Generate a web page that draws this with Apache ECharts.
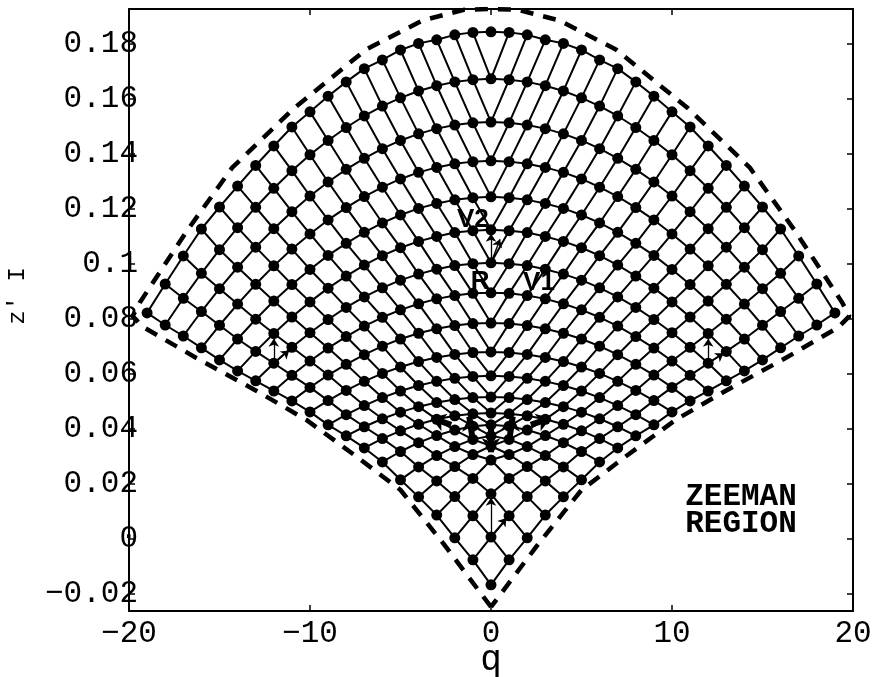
<!DOCTYPE html>
<html>
<head>
<meta charset="utf-8">
<script src="https://cdn.jsdelivr.net/npm/echarts@6.0.0/dist/echarts.min.js"></script>
<style>
    html, body { margin: 0; padding: 0; background: #fff; }
    #chart { width: 879px; height: 677px; }
</style>
</head>
<body>
<div id="chart"></div>
<script>
// axis ticks
var xTicks = [-20, -10, 0, 10, 20];
var yTicks = [-0.02, 0, 0.02, 0.04, 0.06, 0.08, 0.1, 0.12, 0.14, 0.16, 0.18];

// lattice columns: colE[m] = energies (bottom to top) of the points at q = -m (and mirrored at q = +m)
var colE = [
    [-0.0167, 0.0007, 0.0164, 0.0287, 0.0338, 0.0375, 0.0415, 0.0458, 0.0516, 0.0593,
        0.0680, 0.0785, 0.0895, 0.1004, 0.1124, 0.1244, 0.1375, 0.1516, 0.1673, 0.1844],
    [-0.0076, 0.0084, 0.0220, 0.0307, 0.0362, 0.0410, 0.0455, 0.0514, 0.0591, 0.0678,
        0.0783, 0.0893, 0.1001, 0.1121, 0.1241, 0.1372, 0.1513, 0.1670, 0.1842],
    [0.0004, 0.0154, 0.0263, 0.0336, 0.0396, 0.0448, 0.0507, 0.0584, 0.0671, 0.0776,
        0.0885, 0.0994, 0.1114, 0.1233, 0.1364, 0.1505, 0.1662, 0.1833],
    [0.0087, 0.0211, 0.0303, 0.0376, 0.0435, 0.0496, 0.0573, 0.0660, 0.0764, 0.0873,
        0.0981, 0.1100, 0.1220, 0.1351, 0.1492, 0.1648, 0.1815],
    [0.0153, 0.0262, 0.0350, 0.0417, 0.0481, 0.0558, 0.0645, 0.0748, 0.0855, 0.0963,
        0.1082, 0.1202, 0.1333, 0.1473, 0.1629, 0.1802],
    [0.0215, 0.0318, 0.0393, 0.0461, 0.0538, 0.0625, 0.0727, 0.0833, 0.0941, 0.1059,
        0.1178, 0.1309, 0.1449, 0.1604, 0.1778],
    [0.0280, 0.0365, 0.0437, 0.0514, 0.0602, 0.0701, 0.0806, 0.0913, 0.1030, 0.1149,
        0.1279, 0.1419, 0.1574, 0.1742],
    [0.0331, 0.0408, 0.0485, 0.0573, 0.0670, 0.0774, 0.0880, 0.0996, 0.1115, 0.1245,
        0.1384, 0.1538, 0.1710],
    [0.0375, 0.0452, 0.0540, 0.0635, 0.0736, 0.0842, 0.0956, 0.1075, 0.1205, 0.1344,
        0.1496, 0.1662],
    [0.0415, 0.0503, 0.0596, 0.0694, 0.0798, 0.0912, 0.1031, 0.1160, 0.1298, 0.1449, 0.1610],
    [0.0462, 0.0551, 0.0647, 0.0750, 0.0862, 0.0980, 0.1109, 0.1247, 0.1397, 0.1553],
    [0.0502, 0.0595, 0.0697, 0.0807, 0.0925, 0.1054, 0.1190, 0.1339, 0.1498],
    [0.0538, 0.0639, 0.0747, 0.0865, 0.0993, 0.1128, 0.1275, 0.1429],
    [0.0575, 0.0682, 0.0799, 0.0926, 0.1061, 0.1206, 0.1358],
    [0.0611, 0.0727, 0.0854, 0.0988, 0.1132, 0.1283],
    [0.0651, 0.0777, 0.0910, 0.1052, 0.1207],
    [0.0695, 0.0827, 0.0966, 0.1127],
    [0.0738, 0.0875, 0.1029],
    [0.0778, 0.0927],
    [0.0822]
];

// dashed border, left half from the bottom tip to the top
var borderLeft = [[0, -0.0247], [-2.65, -0.0015], [-5, 0.0178], [-7.4, 0.0298], [-10.2, 0.0433],
    [-13, 0.0540], [-16.2, 0.0655], [-19.2, 0.0770], [-19.8, 0.0810], [-19.4, 0.0860],
    [-16.8, 0.1120], [-14.3, 0.1350], [-10.9, 0.1565], [-6.9, 0.1780], [-3.8, 0.1885],
    [-1.5, 0.1924], [0, 0.1927]];

// thin arrows [from, to]
var thinArrows = [
    [[0, 0.0007], [0, 0.0150]], [[0, 0.0007], [0.85, 0.0076]],
    [[-12, 0.0639], [-12, 0.0728]], [[-12, 0.0639], [-11.15, 0.0685]],
    [[12, 0.0639], [12, 0.0728]], [[12, 0.0639], [12.85, 0.0675]],
    [[0, 0.1004], [0, 0.1110]], [[0, 0.1004], [0.5, 0.1090]]
];
// heavy arrows near the singular point
var boldArrows = [
    [[-2.2, 0.0415], [-3.3, 0.0440]], [[-1.0, 0.0355], [-1.2, 0.0445]],
    [[0, 0.0420], [0, 0.0315]], [[1.0, 0.0355], [1.2, 0.0445]],
    [[2.2, 0.0415], [3.3, 0.0440]]
];

// cell labels [text, q, E]
var labels = [['V2', -1.0, 0.1160], ['R', -0.6, 0.0935], ['V1', 2.65, 0.0930]];

var mono = '"Liberation Mono", "Courier New", monospace';

function minusFmt(v){
    return String(v).replace('-', '\u2212');
}

// energy of lattice node (i, j), q = i - j
function nodeE(i, j){
    return colE[Math.abs(i - j)][Math.min(i, j)];
}

var series = [], dots = [], i, j, line;

for(i = 0; i < 20; i++){
    line = [];
    for(j = 0; j < 20; j++){
        line.push([i - j, nodeE(i, j)]);
        dots.push([i - j, nodeE(i, j)]);
    }
    series.push({type: 'line', data: line, symbol: 'none', silent: true,
        lineStyle: {color: '#000', width: 2}});
}
for(j = 0; j < 20; j++){
    line = [];
    for(i = 0; i < 20; i++){
        line.push([i - j, nodeE(i, j)]);
    }
    series.push({type: 'line', data: line, symbol: 'none', silent: true,
        lineStyle: {color: '#000', width: 2}});
}

series.push({
    type: 'line',
    data: borderLeft.concat(borderLeft.map(function(p){ return [-p[0], p[1]]; }).reverse()),
    symbol: 'none', silent: true,
    lineStyle: {color: '#000', width: 4.5, type: [13, 10]}
});

series.push({
    type: 'scatter', data: dots, symbol: 'circle', symbolSize: 11,
    itemStyle: {color: '#000', opacity: 1}, silent: true
});

series.push({
    type: 'lines', coordinateSystem: 'cartesian2d', silent: true,
    data: thinArrows.map(function(a){ return {coords: a}; }),
    symbol: ['none', 'arrow'], symbolSize: 8,
    lineStyle: {color: '#000', width: 1.3, opacity: 1}
});
series.push({
    type: 'lines', coordinateSystem: 'cartesian2d', silent: true,
    data: boldArrows.map(function(a){ return {coords: a}; }),
    symbol: ['none', 'arrow'], symbolSize: 14,
    lineStyle: {color: '#000', width: 6, opacity: 1}
});

function axis(extra){
    var base = {
        type: 'value',
        axisLine: {show: true, onZero: false, lineStyle: {color: '#000', width: 2}},
        splitLine: {show: false}
    };
    return Object.assign(base, extra);
}

function text(x, y, str, font, rot){
    return {type: 'text', x: x, y: y, rotation: rot || 0, z: 100,
        style: {text: str, font: font, fill: '#000', textAlign: 'center', textVerticalAlign: 'middle'}};
}

var tickStyle = {color: '#000', width: 1.5};

var chart = echarts.init(document.getElementById('chart'), null, {renderer: 'canvas'});

chart.setOption({
    backgroundColor: '#fff',
    animation: false,
    grid: {left: 129, right: 26, top: 9, bottom: 66},
    xAxis: [
        axis({
            min: -20, max: 20, position: 'bottom',
            axisTick: {inside: true, length: 6, customValues: xTicks, lineStyle: tickStyle},
            axisLabel: {customValues: xTicks, formatter: minusFmt, margin: 7,
                fontFamily: mono, fontSize: 31, color: '#000'}
        }),
        axis({
            min: -20, max: 20, position: 'top',
            axisTick: {inside: true, length: 6, customValues: xTicks, lineStyle: tickStyle},
            axisLabel: {show: false}
        })
    ],
    yAxis: [
        axis({
            min: -0.0262, max: 0.1927, position: 'left',
            axisTick: {inside: true, length: 6, customValues: yTicks, lineStyle: tickStyle},
            axisLabel: {customValues: yTicks, formatter: minusFmt, margin: -9,
                fontFamily: mono, fontSize: 31, color: '#000'}
        }),
        axis({
            min: -0.0262, max: 0.1927, position: 'right',
            axisTick: {inside: true, length: 6, customValues: yTicks, lineStyle: tickStyle},
            axisLabel: {show: false}
        })
    ],
    series: series
});

// titles and labels, the cell labels placed through the axes
var graphics = [
    text(491, 660, 'q', '36px ' + mono),
    text(18, 296, "z' I", '24px ' + mono, Math.PI / 2),
    text(741, 497, 'ZEEMAN', 'bold 31px ' + mono),
    text(741, 524, 'REGION', 'bold 31px ' + mono)
];
labels.forEach(function(l){
    var p = chart.convertToPixel({xAxisIndex: 0, yAxisIndex: 0}, [l[1], l[2]]);
    graphics.push(text(p[0], p[1], l[0], 'bold 26px "Liberation Sans", Arial, sans-serif'));
});
chart.setOption({graphic: graphics});
</script>
</body>
</html>
